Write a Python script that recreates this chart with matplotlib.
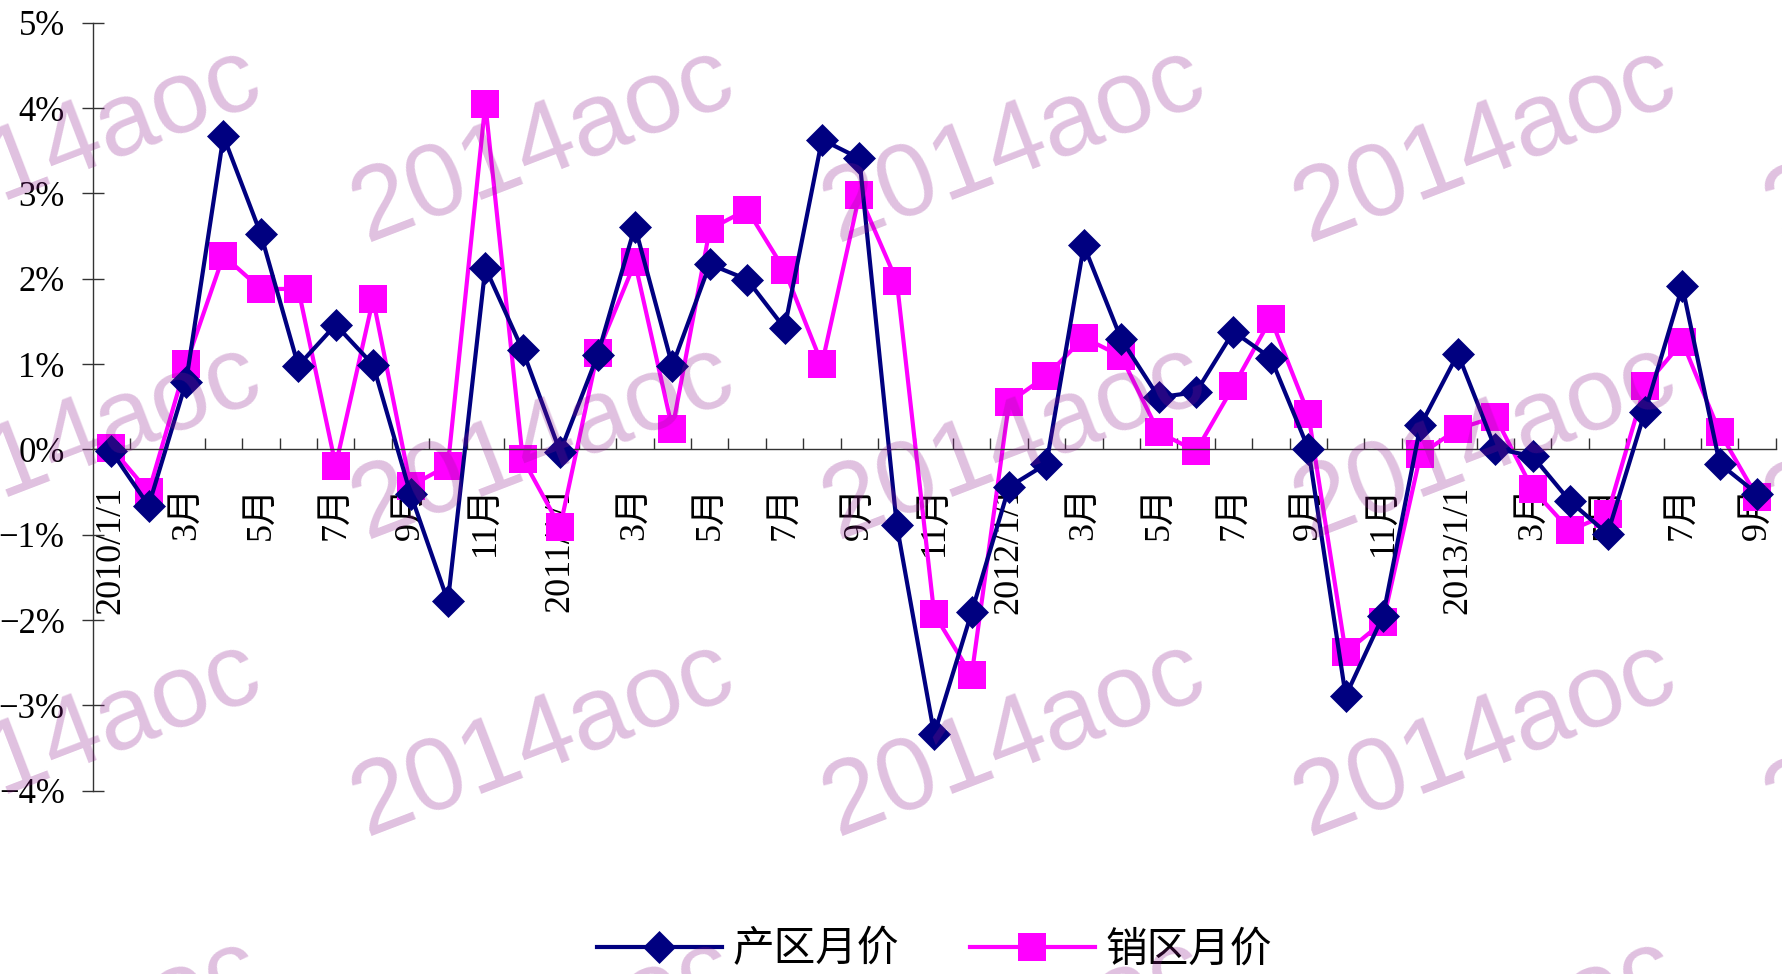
import matplotlib
matplotlib.use('Agg')
import matplotlib.pyplot as plt
import numpy as np

plt.rcParams['font.family'] = ['Liberation Serif', 'Noto Sans CJK SC']
plt.rcParams['axes.unicode_minus'] = True

# monthly change, 2010/1 .. 2013/9 (%)
months_shown = ['2010/1/1', '3月', '5月', '7月', '9月', '11月',
                '2011/1/1', '3月', '5月', '7月', '9月', '11月',
                '2012/1/1', '3月', '5月', '7月', '9月', '11月',
                '2013/1/1', '3月', '5月', '7月', '9月']
chanqu = [-0.02, -0.66, 0.79, 3.67, 2.52, 0.98, 1.46, 0.99, -0.52, -1.78, 2.13, 1.16,
          -0.03, 1.10, 2.61, 0.98, 2.17, 1.99, 1.42, 3.63, 3.41, -0.89, -3.34, -1.91,
          -0.44, -0.17, 2.39, 1.29, 0.61, 0.67, 1.38, 1.07, 0.01, -2.89, -1.95, 0.28,
          1.12, 0.01, -0.08, -0.61, -0.99, 0.44, 1.91, -0.17, -0.52]
xiaoqu = [0.02, -0.50, 1.00, 2.27, 1.88, 1.88, -0.19, 1.76, -0.43, -0.19, 4.05, -0.11,
          -0.91, 1.13, 2.19, 0.24, 2.58, 2.81, 2.10, 1.00, 2.98, 1.97, -1.93, -2.65,
          0.55, 0.86, 1.31, 1.09, 0.20, -0.02, 0.74, 1.53, 0.42, -2.38, -2.02, -0.06,
          0.24, 0.38, -0.47, -0.95, -0.76, 0.74, 1.26, 0.20, -0.56]
names = ['产区月价', '销区月价']

x = np.arange(len(chanqu))

fig = plt.figure(figsize=(17.83, 9.74), dpi=100)
ax = fig.add_axes([0.0519, 0.1882, 0.9441, 0.7885])

ax.plot(x, chanqu, color='#000080', lw=3.0, marker='D', ms=16, mec='#000080',
        mew=0.5, label=names[0], zorder=3)
ax.plot(x, xiaoqu, color='#FF00FF', lw=3.0, marker='s', ms=20.5, mec='#FF00FF',
        mew=0, label=names[1], zorder=2)

ax.set_xlim(-0.5, len(x) - 0.5)
ax.set_ylim(-4, 5)
ax.set_yticks(np.arange(-4, 6, 1))
ax.set_yticklabels(['%d%%' % v if v >= 0 else '\u2212%d%%' % -v for v in range(-4, 6)])

ax.spines['top'].set_visible(False)
ax.spines['right'].set_visible(False)
ax.spines['bottom'].set_position(('data', 0))
ax.spines['bottom'].set_color('#333333')
ax.spines['left'].set_color('#333333')
ax.spines['bottom'].set_linewidth(1.0)
ax.spines['left'].set_linewidth(1.0)

ax.set_xticks(np.arange(-0.5, len(x), 1.0))
ax.set_xticklabels([])
ax.set_xticks(x[::2], minor=True)
ax.set_xticklabels(months_shown, minor=True, rotation=90, va='top', ha='center')
ax.tick_params(axis='x', which='major', direction='in', length=8, width=1, color='#333333')
ax.tick_params(axis='x', which='minor', length=0, pad=26, labelsize=26)
ax.tick_params(axis='y', direction='inout', length=16, width=1, color='#333333',
               pad=12, labelsize=25)

fig.legend(loc='center', bbox_to_anchor=(0.524, 1 - 950 / 974), ncol=2, frameon=False,
           prop={'family': ['Noto Sans CJK SC'], 'size': 30}, handlelength=3.0,
           handletextpad=0.25, columnspacing=1.7, borderaxespad=0)

# watermark
wm_x = [70, 543, 1014, 1485, 1956]
wm_y = [146, 443, 740, 1037]
for yy in wm_y:
    for xx in wm_x:
        fig.text(xx / 1783, 1 - yy / 974, '2014aoc', fontsize=75,
                 family='Liberation Sans', color=(0.55, 0.1, 0.55), alpha=0.27,
                 rotation=21, ha='center', va='center', rotation_mode='anchor',
                 zorder=10)

fig.savefig('out.png', dpi=100)
